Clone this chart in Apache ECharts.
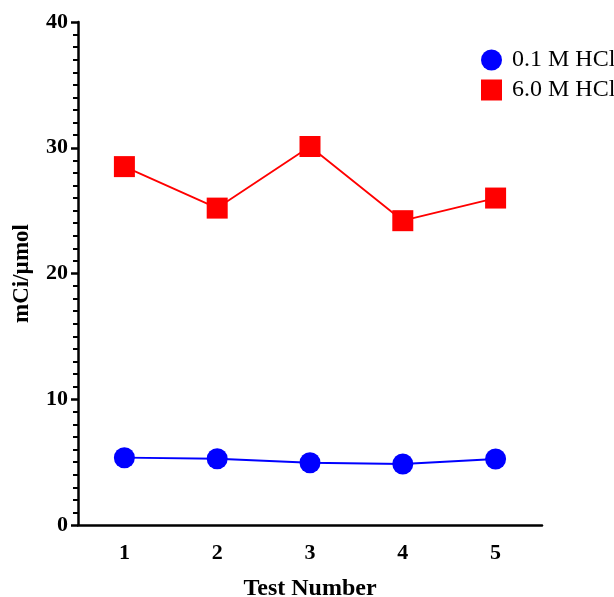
<!DOCTYPE html>
<html><head><meta charset="utf-8">
<script src="https://cdn.jsdelivr.net/npm/echarts@6/dist/echarts.min.js"></script>
<style>html,body{margin:0;padding:0;background:#fff}#c{width:614px;height:597px}</style>
</head><body><div id="c"></div>
<script>
var categories = ['1','2','3','4','5'];
var seriesNames = ['0.1 M HCl','6.0 M HCl'];
var low = [5.35, 5.27, 4.95, 4.85, 5.25];
var high = [28.5, 25.2, 30.1, 24.2, 26.0];
var yTicks = [0, 10, 20, 30, 40];

var font = 'Liberation Serif';
var chart = echarts.init(document.getElementById('c'));
chart.setOption({
  animation: false,
  backgroundColor: '#fff',
  grid: {left: 78, right: 72, top: 22, bottom: 72, containLabel: false, outerBoundsMode: 'none'},
  legend: {
    left: 476, top: 43, orient: 'vertical', itemGap: 6,
    itemWidth: 21, itemHeight: 21,
    textStyle: {fontFamily: font, fontSize: 24, lineHeight: 23, color: '#000', padding: [0, 0, 0, 5]},
    data: [{name: seriesNames[0], icon: 'circle'}, {name: seriesNames[1], icon: 'rect'}]
  },
  xAxis: {
    type: 'category', data: categories, boundaryGap: true,
    name: 'Test Number', nameLocation: 'middle', nameGap: 52,
    nameTextStyle: {fontFamily: font, fontWeight: 'bold', fontSize: 24, color: '#000'},
    axisLine: {lineStyle: {color: '#000', width: 2.5}},
    axisTick: {alignWithLabel: true, length: 7, lineStyle: {width: 2.5, color: '#000'}},
    axisLabel: {fontFamily: font, fontWeight: 'bold', fontSize: 22, color: '#000', margin: 17},
    splitLine: {show: false}
  },
  yAxis: {
    type: 'value', min: yTicks[0], max: yTicks[yTicks.length-1], interval: 10,
    name: 'mCi/µmol', nameLocation: 'middle', nameGap: 44,
    nameTextStyle: {fontFamily: font, fontWeight: 'bold', fontSize: 23, color: '#000'},
    axisLine: {show: true, lineStyle: {color: '#000', width: 2.5}},
    axisTick: {show: true, length: 7, lineStyle: {width: 2.5, color: '#000'}},
    minorTick: {show: true, splitNumber: 10, length: 5, lineStyle: {width: 2, color: '#000'}},
    axisLabel: {fontFamily: font, fontWeight: 'bold', fontSize: 22, color: '#000', margin: 10},
    splitLine: {show: false}
  },
  series: [
    {name: seriesNames[0], type: 'line', data: low, symbol: 'circle', symbolSize: 21,
     itemStyle: {color: '#0000ff'}, lineStyle: {color: '#0000ff', width: 1.8}},
    {name: seriesNames[1], type: 'line', data: high, symbol: 'rect', symbolSize: 21,
     itemStyle: {color: '#ff0000'}, lineStyle: {color: '#ff0000', width: 1.8}}
  ]
});
</script></body></html>
